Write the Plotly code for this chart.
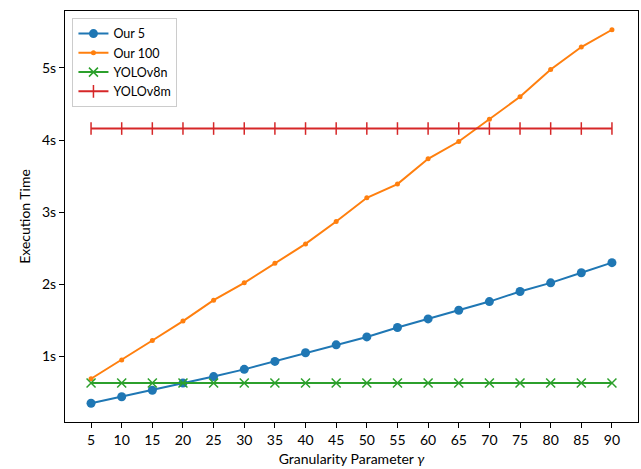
import plotly.graph_objects as go

gamma = [5, 10, 15, 20, 25, 30, 35, 40, 45, 50, 55, 60, 65, 70, 75, 80, 85, 90]
our5 = [0.35, 0.44, 0.53, 0.63, 0.72, 0.82, 0.93, 1.05, 1.16, 1.27, 1.40, 1.52,
        1.64, 1.76, 1.90, 2.02, 2.16, 2.30]
our100 = [0.69, 0.95, 1.22, 1.49, 1.78, 2.02, 2.29, 2.56, 2.87, 3.20, 3.39, 3.74,
          3.98, 4.29, 4.60, 4.98, 5.29, 5.53]
yolov8n = [0.63] * len(gamma)
yolov8m = [4.16] * len(gamma)
y_tick_vals = [1, 2, 3, 4, 5]
y_tick_text = ["1s", "2s", "3s", "4s", "5s"]

FONT = "Lato, DejaVu Sans, sans-serif"

fig = go.Figure()
fig.add_trace(go.Scatter(x=gamma, y=our5, name="Our 5", mode="lines+markers",
                         line=dict(color="#1f77b4", width=2),
                         marker=dict(symbol="circle", size=9, color="#1f77b4")))
fig.add_trace(go.Scatter(x=gamma, y=our100, name="Our 100", mode="lines+markers",
                         line=dict(color="#ff7f0e", width=2),
                         marker=dict(symbol="circle", size=5, color="#ff7f0e")))
fig.add_trace(go.Scatter(x=gamma, y=yolov8n, name="YOLOv8n", mode="lines+markers",
                         line=dict(color="#2ca02c", width=2),
                         marker=dict(symbol="x-thin", size=9, color="#2ca02c",
                                     line=dict(color="#2ca02c", width=1.5))))
fig.add_trace(go.Scatter(x=gamma, y=yolov8m, name="YOLOv8m", mode="lines+markers",
                         line=dict(color="#d62728", width=2),
                         marker=dict(symbol="line-ns", size=9, color="#d62728",
                                     line=dict(color="#d62728", width=1.5))))

axis_common = dict(showline=True, linecolor="black", linewidth=1, mirror=True,
                   ticks="outside", ticklen=5, tickwidth=1, tickcolor="black",
                   showgrid=False, zeroline=False,
                   tickfont=dict(family=FONT, size=14, color="black"))

fig.update_layout(
    width=641, height=469,
    margin=dict(l=65, r=3, t=11, b=47),
    plot_bgcolor="white", paper_bgcolor="white",
    font=dict(family=FONT, size=14, color="black"),
    xaxis=dict(range=[0.75, 94.25], tickvals=gamma,
               title=dict(text="Granularity Parameter <i>γ</i>", standoff=7,
                          font=dict(family=FONT, size=14)),
               **axis_common),
    yaxis=dict(range=[0.09, 5.79], tickvals=y_tick_vals, ticktext=y_tick_text,
               title=dict(text="Execution Time", standoff=8,
                          font=dict(family=FONT, size=14)),
               **axis_common),
    legend=dict(x=0.013, y=0.983, xanchor="left", yanchor="top",
                bgcolor="white", bordercolor="#cccccc", borderwidth=1,
                font=dict(family=FONT, size=12.5), tracegroupgap=0,
                itemwidth=30),
    showlegend=True,
)

fig.write_html("out.html")
